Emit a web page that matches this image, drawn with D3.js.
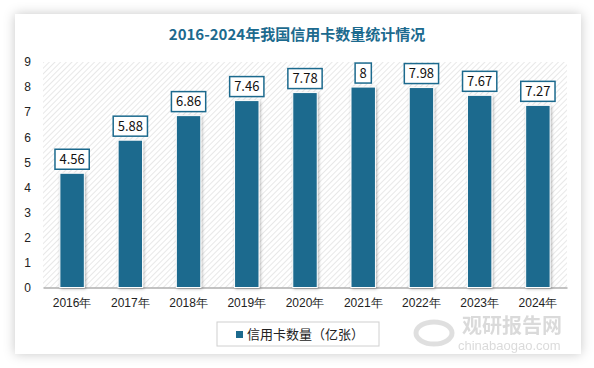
<!DOCTYPE html>
<html>
<head>
<meta charset="utf-8">
<script src="https://cdn.jsdelivr.net/npm/d3@7"></script>
<style>
  body { margin: 0; background: #fff; }
  svg { display: block; font-family: "Noto Sans CJK SC", "Noto Sans", sans-serif; }
</style>
</head>
<body>
<script>
// 数据
const years = ["2016年", "2017年", "2018年", "2019年", "2020年", "2021年", "2022年", "2023年", "2024年"];
const cards = [4.56, 5.88, 6.86, 7.46, 7.78, 8, 7.98, 7.67, 7.27];
const yTicks = [0, 1, 2, 3, 4, 5, 6, 7, 8, 9];
const seriesName = "信用卡数量（亿张）";
const title = "2016-2024年我国信用卡数量统计情况";

const W = 594, H = 368;
const color = "#1c6a8e";
const margin = { top: 62, right: 27, bottom: 80.5, left: 43 };
const width = W - margin.left - margin.right;
const height = H - margin.top - margin.bottom;

const svg = d3.select("body").append("svg")
  .attr("width", W)
  .attr("height", H);

const defs = svg.append("defs");
const shadow = defs.append("filter").attr("id", "shadow")
  .attr("x", "-10%").attr("y", "-10%").attr("width", "120%").attr("height", "120%");
shadow.append("feDropShadow").attr("dx", 0).attr("dy", 0).attr("stdDeviation", 6)
  .attr("flood-color", "#000").attr("flood-opacity", 0.22);

const barShadow = defs.append("filter").attr("id", "barShadow")
  .attr("x", "-30%").attr("y", "-10%").attr("width", "160%").attr("height", "120%");
barShadow.append("feDropShadow").attr("dx", 1).attr("dy", 1).attr("stdDeviation", 1.5)
  .attr("flood-color", "#000").attr("flood-opacity", 0.3);

const hatch = defs.append("pattern").attr("id", "hatch")
  .attr("patternUnits", "userSpaceOnUse").attr("width", 4).attr("height", 4)
  .attr("patternTransform", "rotate(45)");
hatch.append("rect").attr("width", 4).attr("height", 4).attr("fill", "#fff");
hatch.append("line").attr("x1", 0).attr("y1", 0).attr("x2", 0).attr("y2", 4)
  .attr("stroke", "#d9d9d9").attr("stroke-width", 1.2);

// 卡片背景
svg.append("rect")
  .attr("x", 15).attr("y", 14).attr("width", 566).attr("height", 340)
  .attr("fill", "#fff").attr("filter", "url(#shadow)");

// 标题
svg.append("text")
  .attr("x", 297).attr("y", 40)
  .attr("text-anchor", "middle")
  .attr("fill", color)
  .attr("font-size", 15)
  .attr("font-weight", "bold")
  .text(title);

const g = svg.append("g")
  .attr("transform", `translate(${margin.left}, ${margin.top})`);

const x = d3.scaleBand()
  .domain(years)
  .range([0, width])
  .paddingInner(0.58)
  .paddingOuter(0.29);

const y = d3.scaleLinear()
  .domain([0, 9])
  .range([height, 0]);

g.append("rect")
  .attr("width", width).attr("height", height)
  .attr("fill", "url(#hatch)");

// 水印（放在坐标轴文字下面）
const wm = svg.append("g").attr("opacity", 0.3);
wm.append("ellipse")
  .attr("cx", 434).attr("cy", 333).attr("rx", 18).attr("ry", 11)
  .attr("fill", "none").attr("stroke", "#999").attr("stroke-width", 5);
wm.append("text")
  .attr("x", 462).attr("y", 333)
  .attr("font-size", 20).attr("font-weight", "bold")
  .attr("fill", "#888")
  .text("观研报告网");
wm.append("text")
  .attr("x", 458).attr("y", 350)
  .attr("font-size", 13)
  .attr("fill", "#888")
  .attr("font-family", "'Liberation Sans', sans-serif")
  .text("chinabaogao.com");

const yAxis = g.append("g")
  .call(d3.axisLeft(y).tickValues(yTicks).tickSize(0).tickPadding(12));
yAxis.select(".domain").remove();
yAxis.selectAll("text").attr("font-size", 12).attr("fill", "#222")
  .attr("font-family", "'Liberation Sans', sans-serif");

const xAxis = g.append("g")
  .attr("transform", `translate(0, ${height})`)
  .call(d3.axisBottom(x).tickSize(0).tickPadding(11));
xAxis.select(".domain").attr("stroke", "#888").attr("stroke-width", 1.2);
xAxis.selectAll("text").attr("font-size", 12).attr("fill", "#222");

const data = years.map((d, i) => ({ year: d, value: cards[i] }));

g.selectAll(".bar")
  .data(data)
  .enter().append("rect")
  .attr("class", "bar")
  .attr("x", d => x(d.year))
  .attr("y", d => y(d.value))
  .attr("width", x.bandwidth())
  .attr("height", d => height - y(d.value))
  .attr("fill", color)
  .attr("stroke", "#fff")
  .attr("stroke-width", 1)
  .attr("filter", "url(#barShadow)");

// 数据标签
const labels = g.selectAll(".label")
  .data(data)
  .enter().append("g")
  .attr("class", "label")
  .attr("transform", d => `translate(${x(d.year) + x.bandwidth() / 2}, ${y(d.value) - 14})`);

labels.append("text")
  .attr("text-anchor", "middle")
  .attr("dy", "0.35em")
  .attr("font-size", 13)
  .attr("fill", "#111")
  .text(d => d.value);

labels.each(function () {
  const gl = d3.select(this);
  const bb = gl.select("text").node().getBBox();
  gl.insert("rect", "text")
    .attr("x", -bb.width / 2 - 4.5)
    .attr("y", -10)
    .attr("width", bb.width + 9)
    .attr("height", 20)
    .attr("fill", "#fff")
    .attr("stroke", color)
    .attr("stroke-width", 1.5);
});

// 图例
const legend = svg.append("g").attr("transform", "translate(217, 322)");
legend.append("rect")
  .attr("width", 162).attr("height", 24)
  .attr("fill", "#fff").attr("stroke", "#d0d0d0");
legend.append("rect")
  .attr("x", 19).attr("y", 9).attr("width", 7).attr("height", 7)
  .attr("fill", color);
legend.append("text")
  .attr("x", 30).attr("y", 17)
  .attr("font-size", 13)
  .attr("fill", "#222")
  .text(seriesName);
</script>
</body>
</html>
